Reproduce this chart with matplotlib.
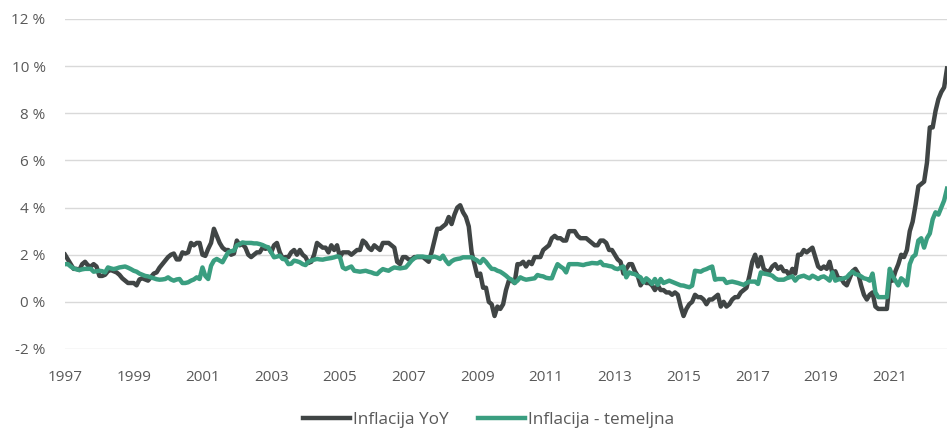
import numpy as np
import matplotlib.pyplot as plt
from matplotlib.ticker import FuncFormatter

plt.rcParams['font.family'] = ['Open Sans', 'DejaVu Sans']

# mjesečni podaci od 1/1997 do 9/2022
start_year = 1997
yoy = [
    2.0, 1.8, 1.6, 1.4, 1.4, 1.35, 1.6, 1.7, 1.55, 1.5, 1.6, 1.5,     # 1997
    1.1, 1.1, 1.15, 1.3, 1.35, 1.3, 1.25, 1.15, 1.0, 0.9, 0.8, 0.8,   # 1998
    0.8, 0.7, 0.95, 1.0, 0.95, 0.9, 1.05, 1.2, 1.25, 1.45, 1.6, 1.75, # 1999
    1.9, 2.0, 2.05, 1.8, 1.8, 2.1, 2.05, 2.1, 2.5, 2.4, 2.5, 2.5,     # 2000
    2.0, 1.95, 2.25, 2.5, 3.1, 2.8, 2.5, 2.3, 2.2, 2.2, 2.0, 2.05,    # 2001
    2.6, 2.4, 2.45, 2.3, 2.0, 1.9, 2.0, 2.1, 2.1, 2.3, 2.25, 2.3,     # 2002
    2.1, 2.4, 2.5, 2.1, 1.85, 1.9, 1.9, 2.1, 2.2, 2.0, 2.2, 2.0,      # 2003
    1.9, 1.65, 1.7, 2.0, 2.5, 2.4, 2.3, 2.3, 2.1, 2.4, 2.2, 2.4,      # 2004
    1.9, 2.1, 2.1, 2.1, 2.0, 2.1, 2.2, 2.2, 2.6, 2.5, 2.3, 2.2,       # 2005
    2.4, 2.3, 2.2, 2.5, 2.5, 2.5, 2.4, 2.3, 1.7, 1.6, 1.9, 1.9,       # 2006
    1.8, 1.8, 1.9, 1.9, 1.9, 1.9, 1.8, 1.7, 2.1, 2.6, 3.1, 3.1,       # 2007
    3.2, 3.3, 3.6, 3.3, 3.7, 4.0, 4.1, 3.8, 3.6, 3.2, 2.1, 1.6,       # 2008
    1.1, 1.2, 0.6, 0.6, 0.0, -0.1, -0.6, -0.2, -0.3, -0.1, 0.5, 0.9,  # 2009
    0.9, 0.8, 1.6, 1.6, 1.7, 1.5, 1.7, 1.6, 1.9, 1.9, 1.9, 2.2,       # 2010
    2.3, 2.4, 2.7, 2.8, 2.7, 2.7, 2.6, 2.6, 3.0, 3.0, 3.0, 2.8,       # 2011
    2.7, 2.7, 2.7, 2.6, 2.5, 2.4, 2.4, 2.6, 2.6, 2.5, 2.2, 2.2,       # 2012
    2.0, 1.8, 1.7, 1.2, 1.4, 1.6, 1.6, 1.3, 1.1, 0.7, 0.9, 0.8,       # 2013
    0.8, 0.7, 0.5, 0.7, 0.5, 0.5, 0.4, 0.4, 0.3, 0.4, 0.3, -0.2,      # 2014
    -0.6, -0.3, -0.1, 0.0, 0.3, 0.2, 0.2, 0.1, -0.1, 0.1, 0.1, 0.2,   # 2015
    0.3, -0.2, 0.0, -0.2, -0.1, 0.1, 0.2, 0.2, 0.4, 0.5, 0.6, 1.1,    # 2016
    1.7, 2.0, 1.5, 1.9, 1.4, 1.3, 1.3, 1.5, 1.6, 1.4, 1.5, 1.3,       # 2017
    1.3, 1.1, 1.4, 1.2, 2.0, 2.0, 2.2, 2.1, 2.2, 2.3, 1.9, 1.5,       # 2018
    1.4, 1.5, 1.4, 1.7, 1.2, 1.3, 1.0, 1.0, 0.8, 0.7, 1.0, 1.3,       # 2019
    1.4, 1.2, 0.7, 0.3, 0.1, 0.3, 0.4, -0.2, -0.3, -0.3, -0.3, -0.3,  # 2020
    0.9, 0.9, 1.3, 1.6, 2.0, 1.9, 2.2, 3.0, 3.4, 4.1, 4.9, 5.0,       # 2021
    5.1, 5.9, 7.4, 7.4, 8.1, 8.6, 8.9, 9.1, 9.9,                      # 2022
]
temeljna = [
    1.6, 1.6, 1.5, 1.42, 1.38, 1.35, 1.38, 1.4, 1.4, 1.4, 1.28, 1.3,        # 1997
    1.32, 1.3, 1.25, 1.46, 1.42, 1.39, 1.42, 1.46, 1.48, 1.5, 1.45, 1.39,   # 1998
    1.32, 1.28, 1.2, 1.15, 1.1, 1.08, 1.04, 1.0, 0.96, 0.94, 0.95, 0.97,    # 1999
    1.04, 0.95, 0.9, 0.95, 0.97, 0.8, 0.8, 0.83, 0.9, 0.95, 1.04, 0.97,     # 2000
    1.46, 1.1, 0.97, 1.53, 1.75, 1.82, 1.75, 1.68, 1.9, 2.1, 2.15, 2.17,    # 2001
    2.4, 2.45, 2.52, 2.5, 2.5, 2.5, 2.48, 2.48, 2.45, 2.41, 2.35, 2.31,     # 2002
    2.1, 1.89, 1.92, 1.96, 1.82, 1.8, 1.6, 1.62, 1.75, 1.72, 1.68, 1.6,     # 2003
    1.56, 1.7, 1.75, 1.79, 1.82, 1.8, 1.79, 1.82, 1.84, 1.86, 1.89, 1.93,   # 2004
    1.9, 1.46, 1.39, 1.45, 1.5, 1.32, 1.3, 1.28, 1.3, 1.32, 1.28, 1.25,     # 2005
    1.2, 1.18, 1.3, 1.39, 1.35, 1.32, 1.4, 1.46, 1.44, 1.42, 1.44, 1.46,    # 2006
    1.6, 1.75, 1.85, 1.92, 1.92, 1.92, 1.9, 1.89, 1.89, 1.92, 1.88, 1.82,   # 2007
    1.96, 1.75, 1.6, 1.72, 1.79, 1.82, 1.84, 1.89, 1.89, 1.89, 1.89, 1.82,  # 2008
    1.75, 1.65, 1.82, 1.7, 1.54, 1.4, 1.39, 1.32, 1.28, 1.2, 1.11, 1.0,     # 2009
    0.94, 0.8, 0.9, 1.04, 0.98, 0.94, 0.96, 0.98, 1.0, 1.14, 1.1, 1.08,     # 2010
    1.02, 1.0, 1.0, 1.32, 1.6, 1.5, 1.42, 1.25, 1.6, 1.6, 1.6, 1.6,         # 2011
    1.58, 1.56, 1.6, 1.62, 1.65, 1.64, 1.63, 1.7, 1.56, 1.55, 1.52, 1.5,    # 2012
    1.42, 1.39, 1.45, 1.5, 1.04, 1.25, 1.2, 1.18, 1.1, 1.04, 0.83, 1.0,     # 2013
    0.9, 0.76, 0.97, 0.72, 0.97, 0.8, 0.85, 0.9, 0.85, 0.8, 0.75, 0.7,      # 2014
    0.69, 0.65, 0.62, 0.69, 1.32, 1.3, 1.28, 1.35, 1.39, 1.45, 1.5, 0.94,   # 2015
    0.97, 0.97, 0.97, 0.8, 0.84, 0.86, 0.83, 0.8, 0.76, 0.72, 0.8, 0.86,    # 2016
    0.86, 0.86, 0.76, 1.25, 1.2, 1.18, 1.15, 1.11, 1.0, 0.94, 0.94, 0.94,   # 2017
    1.0, 1.04, 1.08, 0.9, 1.04, 1.08, 1.11, 1.05, 1.0, 1.11, 1.05, 0.97,    # 2018
    1.05, 1.08, 1.0, 0.9, 1.25, 0.9, 0.95, 0.97, 1.0, 1.04, 1.18, 1.28,     # 2019
    1.18, 1.15, 1.08, 1.0, 0.97, 0.9, 1.2, 0.4, 0.2, 0.2, 0.2, 0.2,         # 2020
    1.4, 1.1, 0.9, 0.7, 1.0, 0.9, 0.7, 1.6, 1.9, 2.0, 2.6, 2.7,             # 2021
    2.3, 2.7, 2.9, 3.5, 3.8, 3.7, 4.0, 4.3, 4.8,                            # 2022
]
year_labels = [str(y) for y in range(1997, 2022, 2)]

months = np.arange(len(yoy))

fig = plt.figure(figsize=(9.47, 4.30), dpi=100)
ax = fig.add_axes([65 / 947, 81 / 430, 882 / 947, 330 / 430])

ax.plot(months, yoy, color='#404545', linewidth=3.2, label='Inflacija YoY', solid_joinstyle='round')
ax.plot(months, temeljna, color='#3A9E80', linewidth=3.2, label='Inflacija - temeljna', solid_joinstyle='round')

ax.set_xlim(0, len(yoy) - 1)
ax.set_ylim(-2, 12)
ax.set_yticks(np.arange(-2, 13, 2))
ax.yaxis.set_major_formatter(FuncFormatter(lambda v, p: f'{v:.0f} %'))
ax.set_xticks(np.arange(0, len(yoy), 24)[:len(year_labels)])
ax.set_xticklabels(year_labels)

ax.grid(axis='y', color='#D9D9D9', linewidth=1)
ax.set_axisbelow(True)
for s in ax.spines.values():
    s.set_visible(False)
ax.tick_params(length=0, labelsize=11, labelcolor='#595959')
ax.tick_params(axis='y', pad=14)
ax.tick_params(axis='x', pad=15)

fig.legend(loc='center', bbox_to_anchor=(0.516, 0.024), ncol=2, frameon=False,
           fontsize=12.3, labelcolor='#595959', handlelength=2.75, columnspacing=1.7,
           handletextpad=0.2)

fig.savefig('out.png', dpi=100)
